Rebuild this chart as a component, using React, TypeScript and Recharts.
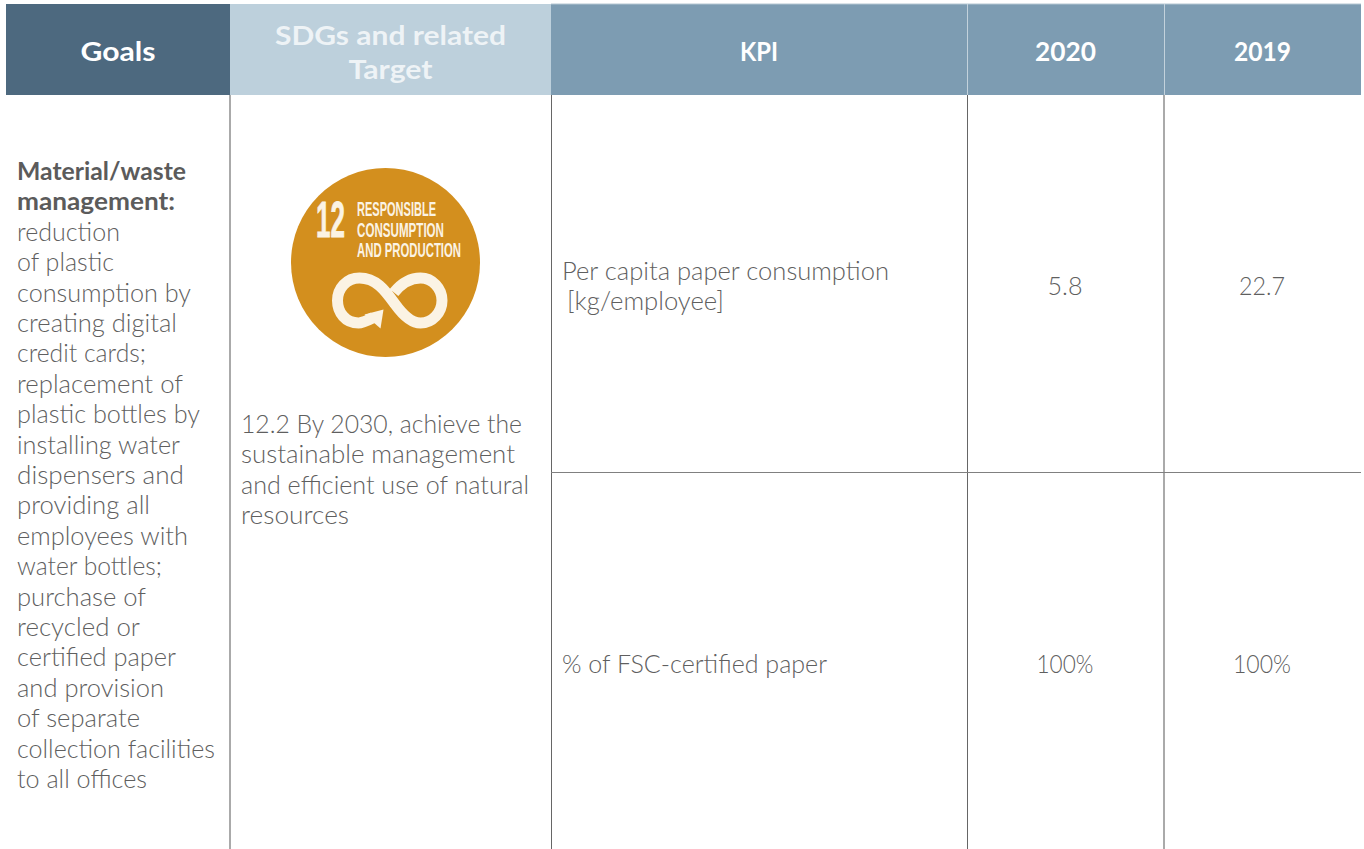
import { ScatterChart, Scatter, XAxis, YAxis, ReferenceArea, ReferenceLine, ReferenceDot } from "recharts";

// column edges and row edges of the table, in page pixels
const columnEdges = [6, 230, 551, 967, 1164, 1361];
const headerTop = 4;
const headerBottom = 95;
const rowDivider = 472.5;
const tableBottom = 849;

const headerFills = ["#4d697f", "#bdd0dc", "#7d9cb2", "#7d9cb2", "#7d9cb2"];
const headerLabels = [["Goals"], ["SDGs and related", "Target"], ["KPI"], ["2020"], ["2019"]];
const headerWidths = [[75], [231, 84], [38], [61], [57]];

const goalsBold = ["Material/waste", "management:"];
const goalsBody = [
  "reduction", "of plastic", "consumption by", "creating digital", "credit cards;",
  "replacement of", "plastic bottles by", "installing water", "dispensers and",
  "providing all", "employees with", "water bottles;", "purchase of", "recycled or",
  "certified paper", "and provision", "of separate", "collection facilities", "to all offices",
];
const targetLines = ["12.2 By 2030, achieve the", "sustainable management", "and efficient use of natural", "resources"];
const kpiFirst = ["Per capita paper consumption", "[kg/employee]"];
const kpiSecond = ["% of FSC-certified paper"];
const values2020 = ["5.8", "100%"];
const values2019 = ["22.7", "100%"];
const badgeLines = ["RESPONSIBLE", "CONSUMPTION", "AND PRODUCTION"];

// rendered line widths, the substitute font runs a little off from the original
const boldWidths = [169, 158];
const goalsBodyWidths = [103, 97, 174, 160, 129, 166, 183, 163, 167, 133, 171, 145, 129, 123, 159, 147, 123, 198, 130];
const targetWidths = [281, 274, 288, 108];

const BODY_FONT = "Lato, sans-serif";
const BADGE_FONT = "'Liberation Sans Narrow', 'Liberation Sans', sans-serif";
const BADGE_WHITE = "#fbf3e4";
const LINE = 30.4;

const cellMiddle = (i: number) => (columnEdges[i] + columnEdges[i + 1]) / 2;

const headerRows = headerLabels.flatMap((lines, i) =>
  lines.map((text, j) => ({
    x: cellMiddle(i),
    y: lines.length > 1 ? 34 + j * 34.5 : 50,
    text,
    width: headerWidths[i][j],
    faded: i === 1,
  }))
);
const boldRows = goalsBold.map((text, i) => ({ x: 17, y: 170 + i * LINE, text, width: boldWidths[i] }));
const bodyRows = [
  ...goalsBody.map((text, i) => ({ x: 17, y: 170 + (i + 2) * LINE, text, anchor: "start", width: goalsBodyWidths[i] })),
  ...targetLines.map((text, i) => ({ x: 241, y: 423 + i * LINE, text, anchor: "start", width: targetWidths[i] })),
  { x: 562, y: 270, text: kpiFirst[0], anchor: "start", width: 327 },
  { x: 567, y: 300, text: kpiFirst[1], anchor: "start", width: 157 },
  { x: 562, y: 663, text: kpiSecond[0], anchor: "start", width: 265 },
  { x: 1065, y: 285, text: values2020[0], anchor: "middle", width: 35 },
  { x: 1065, y: 663, text: values2020[1], anchor: "middle", width: 57 },
  { x: 1262, y: 285, text: values2019[0], anchor: "middle", width: 46 },
  { x: 1262, y: 663, text: values2019[1], anchor: "middle", width: 58 },
];
const badgeRows = badgeLines.map((text, i) => ({ x: 357, y: 208.5 + i * 20.5, text, width: [79, 87, 104][i] }));
const badgeNumber = [{ x: 316, y: 219, text: "12" }];

const HeaderText = ({ cx, cy, payload }: any) => (
  <text x={cx} y={cy} textAnchor="middle" dominantBaseline="central" fontFamily={BODY_FONT} fontWeight={700}
    fontSize={27} fill="#ffffff" fillOpacity={payload.faded ? 0.75 : 1} textLength={payload.width}
    lengthAdjust="spacingAndGlyphs">
    {payload.text}
  </text>
);
const BoldText = ({ cx, cy, payload }: any) => (
  <text x={cx} y={cy} dominantBaseline="central" fontFamily={BODY_FONT} fontWeight={700} fontSize={24.8} fill="#5b5b5b"
    textLength={payload.width} lengthAdjust="spacingAndGlyphs">
    {payload.text}
  </text>
);
const BodyText = ({ cx, cy, payload }: any) => (
  <text x={cx} y={cy} textAnchor={payload.anchor} dominantBaseline="central" fontFamily={BODY_FONT} fontWeight={300}
    fontSize={25} fill="#5f5f5f" textLength={payload.width} lengthAdjust="spacingAndGlyphs">
    {payload.text}
  </text>
);
const BadgeText = ({ cx, cy, payload }: any) => (
  <text x={cx} y={cy} dominantBaseline="central" fontFamily={BADGE_FONT} fontWeight={700} fontSize={20.5}
    fill={BADGE_WHITE} textLength={payload.width} lengthAdjust="spacingAndGlyphs">
    {payload.text}
  </text>
);
const BadgeNumber = ({ cx, cy, payload }: any) => (
  <g transform={`translate(${cx} ${cy}) scale(0.52 1)`}>
    <text dominantBaseline="central" fontFamily={BADGE_FONT} fontWeight={700} fontSize={50}
      fill={BADGE_WHITE} stroke={BADGE_WHITE} strokeWidth={0.8}>
      {payload.text}
    </text>
  </g>
);

// white infinity loop of the SDG 12 icon, drawn around the dot's centre
const InfinityIcon = ({ cx, cy }: any) => (
  <g transform={`translate(${cx} ${cy})`}>
    <path
      d="M-16 17 C-22 20 -27 22.5 -31 22.5 C-44 22.5 -52 12 -52 0 C-52 -12 -43 -22.5 -30 -22.5 C-13 -22.5 -4 -9.5 5.5 3.5 C13 14 21 22.5 31 22.5 C43 22.5 52.5 12 52.5 0 C52.5 -12 43 -22.5 31 -22.5 C19 -22.5 11 -16 4.5 -8"
      fill="none"
      stroke={BADGE_WHITE}
      strokeWidth={11}
    />
    <polygon points="-25,14 -6,9 -9,28" fill={BADGE_WHITE} />
  </g>
);

const ruleX = (i: number) => columnEdges[i] + 0.5;

export default function App() {
  return (
    <div style={{ position: "absolute", left: 0, top: 0, width: 1364, height: 849, background: "#ffffff" }}>
      <ScatterChart width={1364} height={849} margin={{ top: 0, right: 0, bottom: 0, left: 0 }}>
        <XAxis type="number" dataKey="x" domain={[0, 1364]} hide />
        <YAxis type="number" dataKey="y" domain={[0, 849]} reversed hide width={0} />

        {headerFills.map((fill, i) => (
          <ReferenceArea key={i} x1={columnEdges[i]} x2={columnEdges[i + 1]} y1={headerTop} y2={headerBottom}
            fill={fill} fillOpacity={1} stroke="none" />
        ))}
        <ReferenceLine segment={[{ x: columnEdges[2], y: headerTop }, { x: columnEdges[5], y: headerTop }]} stroke="#b4c6d2" />
        <ReferenceLine segment={[{ x: ruleX(3), y: headerTop }, { x: ruleX(3), y: headerBottom }]} stroke="#c3d2dc" />
        <ReferenceLine segment={[{ x: ruleX(4), y: headerTop }, { x: ruleX(4), y: headerBottom }]} stroke="#c3d2dc" />

        <ReferenceLine segment={[{ x: columnEdges[1], y: headerBottom }, { x: columnEdges[1], y: tableBottom }]} stroke="#8e8e8e" strokeWidth={1.5} />
        <ReferenceLine segment={[{ x: ruleX(2), y: headerBottom }, { x: ruleX(2), y: tableBottom }]} stroke="#666666" />
        <ReferenceLine segment={[{ x: ruleX(3), y: headerBottom }, { x: ruleX(3), y: tableBottom }]} stroke="#666666" />
        <ReferenceLine segment={[{ x: columnEdges[4], y: headerBottom }, { x: columnEdges[4], y: tableBottom }]} stroke="#8e8e8e" strokeWidth={1.5} />
        <ReferenceLine segment={[{ x: columnEdges[2], y: rowDivider }, { x: columnEdges[5], y: rowDivider }]} stroke="#808080" />

        <ReferenceDot x={385.5} y={262.5} r={94.5} fill="#d38f1e" stroke="none" />
        <ReferenceDot x={389.5} y={300.5} r={1} shape={InfinityIcon} />

        <Scatter data={headerRows} shape={HeaderText} isAnimationActive={false} />
        <Scatter data={boldRows} shape={BoldText} isAnimationActive={false} />
        <Scatter data={bodyRows} shape={BodyText} isAnimationActive={false} />
        <Scatter data={badgeRows} shape={BadgeText} isAnimationActive={false} />
        <Scatter data={badgeNumber} shape={BadgeNumber} isAnimationActive={false} />
      </ScatterChart>
    </div>
  );
}
